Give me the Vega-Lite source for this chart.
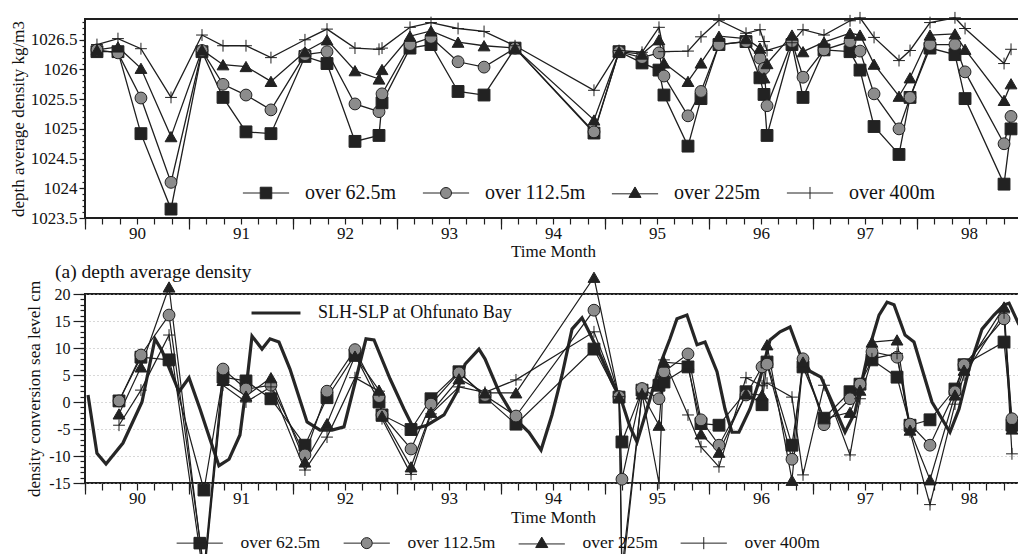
{
"$schema": "https://vega.github.io/schema/vega-lite/v6.json",
"background": "white",
"padding": {"left": 8, "top": 8, "right": 0, "bottom": 0},
"spacing": 0,
"resolve": {"scale": {"shape": "independent", "fill": "independent", "stroke": "independent"}},
"config": {
  "font": "Liberation Serif",
  "view": {"stroke": "#1e1e1e", "strokeWidth": 2},
  "axis": {"domainColor": "#1e1e1e", "tickColor": "#1e1e1e", "labelColor": "#111", "titleColor": "#111", "labelFont": "Liberation Serif", "titleFont": "Liberation Serif", "titleFontWeight": "normal", "grid": false, "tickWidth": 1.2},
  "legend": {"labelFont": "Liberation Serif", "labelColor": "#111", "labelLimit": 400}
},
"datasets": {
"top": [
{"t":1990.115,"s":"over 62.5m","v":1026.30},{"t":1990.115,"s":"over 112.5m","v":1026.33},{"t":1990.115,"s":"over 225m","v":1026.33},{"t":1990.115,"s":"over 400m","v":1026.42},
{"t":1990.317,"s":"over 62.5m","v":1026.30},{"t":1990.317,"s":"over 112.5m","v":1026.28},{"t":1990.317,"s":"over 225m","v":1026.38},{"t":1990.317,"s":"over 400m","v":1026.52},
{"t":1990.538,"s":"over 62.5m","v":1024.92},{"t":1990.538,"s":"over 112.5m","v":1025.52},{"t":1990.538,"s":"over 225m","v":1026.02},{"t":1990.538,"s":"over 400m","v":1026.35},
{"t":1990.827,"s":"over 62.5m","v":1023.65},{"t":1990.827,"s":"over 112.5m","v":1024.10},{"t":1990.827,"s":"over 225m","v":1024.87},{"t":1990.827,"s":"over 400m","v":1025.53},
{"t":1991.125,"s":"over 62.5m","v":1026.30},{"t":1991.125,"s":"over 112.5m","v":1026.32},{"t":1991.125,"s":"over 225m","v":1026.33},{"t":1991.125,"s":"over 400m","v":1026.58},
{"t":1991.327,"s":"over 62.5m","v":1025.53},{"t":1991.327,"s":"over 112.5m","v":1025.75},{"t":1991.327,"s":"over 225m","v":1026.08},{"t":1991.327,"s":"over 400m","v":1026.40},
{"t":1991.548,"s":"over 62.5m","v":1024.95},{"t":1991.548,"s":"over 112.5m","v":1025.57},{"t":1991.548,"s":"over 225m","v":1026.05},{"t":1991.548,"s":"over 400m","v":1026.40},
{"t":1991.788,"s":"over 62.5m","v":1024.92},{"t":1991.788,"s":"over 112.5m","v":1025.32},{"t":1991.788,"s":"over 225m","v":1025.80},{"t":1991.788,"s":"over 400m","v":1026.20},
{"t":1992.115,"s":"over 62.5m","v":1026.22},{"t":1992.115,"s":"over 112.5m","v":1026.25},{"t":1992.115,"s":"over 225m","v":1026.30},{"t":1992.115,"s":"over 400m","v":1026.50},
{"t":1992.327,"s":"over 62.5m","v":1026.10},{"t":1992.327,"s":"over 112.5m","v":1026.30},{"t":1992.327,"s":"over 225m","v":1026.50},{"t":1992.327,"s":"over 400m","v":1026.68},
{"t":1992.596,"s":"over 62.5m","v":1024.79},{"t":1992.596,"s":"over 112.5m","v":1025.42},{"t":1992.596,"s":"over 225m","v":1025.98},{"t":1992.596,"s":"over 400m","v":1026.36},
{"t":1992.827,"s":"over 62.5m","v":1024.89},{"t":1992.827,"s":"over 112.5m","v":1025.29},{"t":1992.827,"s":"over 225m","v":1025.84},{"t":1992.827,"s":"over 400m","v":1026.34},
{"t":1992.856,"s":"over 62.5m","v":1025.44},{"t":1992.856,"s":"over 112.5m","v":1025.59},{"t":1992.856,"s":"over 225m","v":1026.00},{"t":1992.856,"s":"over 400m","v":1026.36},
{"t":1993.125,"s":"over 62.5m","v":1026.36},{"t":1993.125,"s":"over 112.5m","v":1026.42},{"t":1993.125,"s":"over 225m","v":1026.56},{"t":1993.125,"s":"over 400m","v":1026.71},
{"t":1993.327,"s":"over 62.5m","v":1026.42},{"t":1993.327,"s":"over 112.5m","v":1026.54},{"t":1993.327,"s":"over 225m","v":1026.65},{"t":1993.327,"s":"over 400m","v":1026.79},
{"t":1993.587,"s":"over 62.5m","v":1025.63},{"t":1993.587,"s":"over 112.5m","v":1026.13},{"t":1993.587,"s":"over 225m","v":1026.46},{"t":1993.587,"s":"over 400m","v":1026.69},
{"t":1993.837,"s":"over 62.5m","v":1025.57},{"t":1993.837,"s":"over 112.5m","v":1026.04},{"t":1993.837,"s":"over 225m","v":1026.40},{"t":1993.837,"s":"over 400m","v":1026.64},
{"t":1994.135,"s":"over 62.5m","v":1026.36},{"t":1994.135,"s":"over 112.5m","v":1026.36},{"t":1994.135,"s":"over 225m","v":1026.36},{"t":1994.135,"s":"over 400m","v":1026.40},
{"t":1994.894,"s":"over 62.5m","v":1024.93},{"t":1994.894,"s":"over 112.5m","v":1024.95},{"t":1994.894,"s":"over 225m","v":1025.15},{"t":1994.894,"s":"over 400m","v":1025.65},
{"t":1995.135,"s":"over 62.5m","v":1026.30},{"t":1995.135,"s":"over 112.5m","v":1026.30},{"t":1995.135,"s":"over 225m","v":1026.30},{"t":1995.135,"s":"over 400m","v":1026.32},
{"t":1995.356,"s":"over 62.5m","v":1026.11},{"t":1995.356,"s":"over 112.5m","v":1026.20},{"t":1995.356,"s":"over 225m","v":1026.26},{"t":1995.356,"s":"over 400m","v":1026.29},
{"t":1995.519,"s":"over 62.5m","v":1025.99},{"t":1995.519,"s":"over 112.5m","v":1026.28},{"t":1995.519,"s":"over 225m","v":1026.50},{"t":1995.519,"s":"over 400m","v":1026.71},
{"t":1995.567,"s":"over 62.5m","v":1025.57},{"t":1995.567,"s":"over 112.5m","v":1025.89},{"t":1995.567,"s":"over 225m","v":1026.11},{"t":1995.567,"s":"over 400m","v":1026.30},
{"t":1995.798,"s":"over 62.5m","v":1024.71},{"t":1995.798,"s":"over 112.5m","v":1025.22},{"t":1995.798,"s":"over 225m","v":1025.80},{"t":1995.798,"s":"over 400m","v":1026.31},
{"t":1995.923,"s":"over 62.5m","v":1025.51},{"t":1995.923,"s":"over 112.5m","v":1025.63},{"t":1995.923,"s":"over 225m","v":1026.11},{"t":1995.923,"s":"over 400m","v":1026.55},
{"t":1996.096,"s":"over 62.5m","v":1026.42},{"t":1996.096,"s":"over 112.5m","v":1026.42},{"t":1996.096,"s":"over 225m","v":1026.56},{"t":1996.096,"s":"over 400m","v":1026.83},
{"t":1996.356,"s":"over 62.5m","v":1026.47},{"t":1996.356,"s":"over 112.5m","v":1026.47},{"t":1996.356,"s":"over 225m","v":1026.52},{"t":1996.356,"s":"over 400m","v":1026.61},
{"t":1996.490,"s":"over 62.5m","v":1025.86},{"t":1996.490,"s":"over 112.5m","v":1026.19},{"t":1996.490,"s":"over 225m","v":1026.36},{"t":1996.490,"s":"over 400m","v":1026.67},
{"t":1996.529,"s":"over 62.5m","v":1025.58},{"t":1996.529,"s":"over 112.5m","v":1026.02},{"t":1996.529,"s":"over 225m","v":1025.86},{"t":1996.529,"s":"over 400m","v":1026.47},
{"t":1996.558,"s":"over 62.5m","v":1024.89},{"t":1996.558,"s":"over 112.5m","v":1025.39},{"t":1996.558,"s":"over 225m","v":1026.10},{"t":1996.558,"s":"over 400m","v":1026.32},
{"t":1996.798,"s":"over 62.5m","v":1026.42},{"t":1996.798,"s":"over 112.5m","v":1026.47},{"t":1996.798,"s":"over 225m","v":1026.58},{"t":1996.798,"s":"over 400m","v":1026.45},
{"t":1996.904,"s":"over 62.5m","v":1025.53},{"t":1996.904,"s":"over 112.5m","v":1025.87},{"t":1996.904,"s":"over 225m","v":1026.30},{"t":1996.904,"s":"over 400m","v":1026.67},
{"t":1997.106,"s":"over 62.5m","v":1026.33},{"t":1997.106,"s":"over 112.5m","v":1026.33},{"t":1997.106,"s":"over 225m","v":1026.46},{"t":1997.106,"s":"over 400m","v":1026.58},
{"t":1997.356,"s":"over 62.5m","v":1026.30},{"t":1997.356,"s":"over 112.5m","v":1026.47},{"t":1997.356,"s":"over 225m","v":1026.61},{"t":1997.356,"s":"over 400m","v":1026.82},
{"t":1997.452,"s":"over 62.5m","v":1025.99},{"t":1997.452,"s":"over 112.5m","v":1026.31},{"t":1997.452,"s":"over 225m","v":1026.58},{"t":1997.452,"s":"over 400m","v":1026.87},
{"t":1997.587,"s":"over 62.5m","v":1025.04},{"t":1997.587,"s":"over 112.5m","v":1025.59},{"t":1997.587,"s":"over 225m","v":1026.09},{"t":1997.587,"s":"over 400m","v":1026.54},
{"t":1997.827,"s":"over 62.5m","v":1024.57},{"t":1997.827,"s":"over 112.5m","v":1025.00},{"t":1997.827,"s":"over 225m","v":1025.55},{"t":1997.827,"s":"over 400m","v":1026.15},
{"t":1997.933,"s":"over 62.5m","v":1025.53},{"t":1997.933,"s":"over 112.5m","v":1025.53},{"t":1997.933,"s":"over 225m","v":1025.86},{"t":1997.933,"s":"over 400m","v":1026.32},
{"t":1998.125,"s":"over 62.5m","v":1026.36},{"t":1998.125,"s":"over 112.5m","v":1026.42},{"t":1998.125,"s":"over 225m","v":1026.58},{"t":1998.125,"s":"over 400m","v":1026.79},
{"t":1998.365,"s":"over 62.5m","v":1026.25},{"t":1998.365,"s":"over 112.5m","v":1026.42},{"t":1998.365,"s":"over 225m","v":1026.60},{"t":1998.365,"s":"over 400m","v":1026.87},
{"t":1998.462,"s":"over 62.5m","v":1025.51},{"t":1998.462,"s":"over 112.5m","v":1025.96},{"t":1998.462,"s":"over 225m","v":1026.34},{"t":1998.462,"s":"over 400m","v":1026.69},
{"t":1998.837,"s":"over 62.5m","v":1024.07},{"t":1998.837,"s":"over 112.5m","v":1024.75},{"t":1998.837,"s":"over 225m","v":1025.48},{"t":1998.837,"s":"over 400m","v":1026.10},
{"t":1998.904,"s":"over 62.5m","v":1025.00},{"t":1998.904,"s":"over 112.5m","v":1025.21},{"t":1998.904,"s":"over 225m","v":1025.76},{"t":1998.904,"s":"over 400m","v":1026.34}
],
"bot": [
{"t":1990.327,"s":"over 62.5m","v":0.2},{"t":1990.327,"s":"over 112.5m","v":0.2},{"t":1990.327,"s":"over 225m","v":-2.2},{"t":1990.327,"s":"over 400m","v":-4.3},
{"t":1990.538,"s":"over 62.5m","v":8.3},{"t":1990.538,"s":"over 112.5m","v":8.7},{"t":1990.538,"s":"over 225m","v":6.5},{"t":1990.538,"s":"over 400m","v":2.2},
{"t":1990.808,"s":"over 62.5m","v":7.8},{"t":1990.808,"s":"over 112.5m","v":16.1},{"t":1990.808,"s":"over 225m","v":21.3},{"t":1990.808,"s":"over 400m","v":12.4},
{"t":1991.144,"s":"over 62.5m","v":-16.3},{"t":1991.144,"s":"over 112.5m","v":-31},{"t":1991.144,"s":"over 225m","v":-32},{"t":1991.144,"s":"over 400m","v":-33},
{"t":1991.327,"s":"over 62.5m","v":4.6},{"t":1991.327,"s":"over 112.5m","v":6.1},{"t":1991.327,"s":"over 225m","v":4.0},{"t":1991.327,"s":"over 400m","v":3.1},
{"t":1991.548,"s":"over 62.5m","v":3.9},{"t":1991.548,"s":"over 112.5m","v":2.4},{"t":1991.548,"s":"over 225m","v":1.1},{"t":1991.548,"s":"over 400m","v":0.0},
{"t":1991.788,"s":"over 62.5m","v":0.6},{"t":1991.788,"s":"over 112.5m","v":3.1},{"t":1991.788,"s":"over 225m","v":4.5},{"t":1991.788,"s":"over 400m","v":2.8},
{"t":1992.115,"s":"over 62.5m","v":-8.0},{"t":1992.115,"s":"over 112.5m","v":-9.8},{"t":1992.115,"s":"over 225m","v":-11.1},{"t":1992.115,"s":"over 400m","v":-12.6},
{"t":1992.327,"s":"over 62.5m","v":0.8},{"t":1992.327,"s":"over 112.5m","v":2.0},{"t":1992.327,"s":"over 225m","v":-4.0},{"t":1992.327,"s":"over 400m","v":-6.5},
{"t":1992.596,"s":"over 62.5m","v":8.7},{"t":1992.596,"s":"over 112.5m","v":9.7},{"t":1992.596,"s":"over 225m","v":8.5},{"t":1992.596,"s":"over 400m","v":4.5},
{"t":1992.827,"s":"over 62.5m","v":0.0},{"t":1992.827,"s":"over 112.5m","v":1.0},{"t":1992.827,"s":"over 225m","v":2.2},{"t":1992.827,"s":"over 400m","v":2.0},
{"t":1992.856,"s":"over 62.5m","v":-2.4},{"t":1992.856,"s":"over 112.5m","v":-2.4},{"t":1992.856,"s":"over 225m","v":-2.6},{"t":1992.856,"s":"over 400m","v":-3.1},
{"t":1993.135,"s":"over 62.5m","v":-5.1},{"t":1993.135,"s":"over 112.5m","v":-8.7},{"t":1993.135,"s":"over 225m","v":-12.0},{"t":1993.135,"s":"over 400m","v":-13.4},
{"t":1993.327,"s":"over 62.5m","v":0.6},{"t":1993.327,"s":"over 112.5m","v":-0.4},{"t":1993.327,"s":"over 225m","v":-1.9},{"t":1993.327,"s":"over 400m","v":-2.2},
{"t":1993.596,"s":"over 62.5m","v":5.6},{"t":1993.596,"s":"over 112.5m","v":5.4},{"t":1993.596,"s":"over 225m","v":4.3},{"t":1993.596,"s":"over 400m","v":2.8},
{"t":1993.846,"s":"over 62.5m","v":0.9},{"t":1993.846,"s":"over 112.5m","v":1.2},{"t":1993.846,"s":"over 225m","v":1.7},{"t":1993.846,"s":"over 400m","v":1.8},
{"t":1994.144,"s":"over 62.5m","v":-4.1},{"t":1994.144,"s":"over 112.5m","v":-2.6},{"t":1994.144,"s":"over 225m","v":1.7},{"t":1994.144,"s":"over 400m","v":4.1},
{"t":1994.894,"s":"over 62.5m","v":9.8},{"t":1994.894,"s":"over 112.5m","v":17.0},{"t":1994.894,"s":"over 225m","v":23.1},{"t":1994.894,"s":"over 400m","v":13.0},
{"t":1995.135,"s":"over 62.5m","v":0.9},{"t":1995.135,"s":"over 112.5m","v":1.0},{"t":1995.135,"s":"over 225m","v":0.9},{"t":1995.135,"s":"over 400m","v":1.0},
{"t":1995.163,"s":"over 62.5m","v":-7.4},{"t":1995.163,"s":"over 112.5m","v":-14.3},{"t":1995.163,"s":"over 225m","v":-31},{"t":1995.163,"s":"over 400m","v":-33},
{"t":1995.356,"s":"over 62.5m","v":2.2},{"t":1995.356,"s":"over 112.5m","v":2.5},{"t":1995.356,"s":"over 225m","v":1.5},{"t":1995.356,"s":"over 400m","v":1.5},
{"t":1995.519,"s":"over 62.5m","v":3.1},{"t":1995.519,"s":"over 112.5m","v":0.6},{"t":1995.519,"s":"over 225m","v":-4.3},{"t":1995.519,"s":"over 400m","v":-15},
{"t":1995.567,"s":"over 62.5m","v":3.7},{"t":1995.567,"s":"over 112.5m","v":5.6},{"t":1995.567,"s":"over 225m","v":7.4},{"t":1995.567,"s":"over 400m","v":7.8},
{"t":1995.798,"s":"over 62.5m","v":6.5},{"t":1995.798,"s":"over 112.5m","v":8.9},{"t":1995.798,"s":"over 225m","v":7.0},{"t":1995.798,"s":"over 400m","v":-2.4},
{"t":1995.923,"s":"over 62.5m","v":-4.0},{"t":1995.923,"s":"over 112.5m","v":-3.3},{"t":1995.923,"s":"over 225m","v":-5.9},{"t":1995.923,"s":"over 400m","v":-8.3},
{"t":1996.096,"s":"over 62.5m","v":-4.3},{"t":1996.096,"s":"over 112.5m","v":-8.0},{"t":1996.096,"s":"over 225m","v":-9.3},{"t":1996.096,"s":"over 400m","v":-12.0},
{"t":1996.356,"s":"over 62.5m","v":1.9},{"t":1996.356,"s":"over 112.5m","v":1.3},{"t":1996.356,"s":"over 225m","v":1.5},{"t":1996.356,"s":"over 400m","v":4.5},
{"t":1996.510,"s":"over 62.5m","v":-0.5},{"t":1996.510,"s":"over 112.5m","v":6.5},{"t":1996.510,"s":"over 225m","v":1.3},{"t":1996.510,"s":"over 400m","v":3.0},
{"t":1996.558,"s":"over 62.5m","v":7.4},{"t":1996.558,"s":"over 112.5m","v":7.0},{"t":1996.558,"s":"over 225m","v":10.6},{"t":1996.558,"s":"over 400m","v":3.5},
{"t":1996.798,"s":"over 62.5m","v":-8.0},{"t":1996.798,"s":"over 112.5m","v":-10.6},{"t":1996.798,"s":"over 225m","v":-14.5},{"t":1996.798,"s":"over 400m","v":0.9},
{"t":1996.904,"s":"over 62.5m","v":6.5},{"t":1996.904,"s":"over 112.5m","v":8.0},{"t":1996.904,"s":"over 225m","v":7.4},{"t":1996.904,"s":"over 400m","v":-13.5},
{"t":1997.106,"s":"over 62.5m","v":-3.0},{"t":1997.106,"s":"over 112.5m","v":-4.2},{"t":1997.106,"s":"over 225m","v":-3.1},{"t":1997.106,"s":"over 400m","v":3.1},
{"t":1997.356,"s":"over 62.5m","v":1.9},{"t":1997.356,"s":"over 112.5m","v":0.6},{"t":1997.356,"s":"over 225m","v":-1.9},{"t":1997.356,"s":"over 400m","v":-9.8},
{"t":1997.452,"s":"over 62.5m","v":3.3},{"t":1997.452,"s":"over 112.5m","v":3.3},{"t":1997.452,"s":"over 225m","v":2.2},{"t":1997.452,"s":"over 400m","v":0.6},
{"t":1997.567,"s":"over 62.5m","v":7.8},{"t":1997.567,"s":"over 112.5m","v":9.3},{"t":1997.567,"s":"over 225m","v":11.1},{"t":1997.567,"s":"over 400m","v":8.0},
{"t":1997.808,"s":"over 62.5m","v":4.6},{"t":1997.808,"s":"over 112.5m","v":8.3},{"t":1997.808,"s":"over 225m","v":11.5},{"t":1997.808,"s":"over 400m","v":9.0},
{"t":1997.933,"s":"over 62.5m","v":-4.3},{"t":1997.933,"s":"over 112.5m","v":-4.1},{"t":1997.933,"s":"over 225m","v":-5.2},{"t":1997.933,"s":"over 400m","v":-5.5},
{"t":1998.125,"s":"over 62.5m","v":-3.3},{"t":1998.125,"s":"over 112.5m","v":-8.0},{"t":1998.125,"s":"over 225m","v":-14.4},{"t":1998.125,"s":"over 400m","v":-19.0},
{"t":1998.365,"s":"over 62.5m","v":2.4},{"t":1998.365,"s":"over 112.5m","v":1.9},{"t":1998.365,"s":"over 225m","v":1.3},{"t":1998.365,"s":"over 400m","v":-0.4},
{"t":1998.452,"s":"over 62.5m","v":6.9},{"t":1998.452,"s":"over 112.5m","v":6.9},{"t":1998.452,"s":"over 225m","v":5.9},{"t":1998.452,"s":"over 400m","v":5.0},
{"t":1998.837,"s":"over 62.5m","v":11.1},{"t":1998.837,"s":"over 112.5m","v":15.4},{"t":1998.837,"s":"over 225m","v":17.6},{"t":1998.837,"s":"over 400m","v":16.5},
{"t":1998.913,"s":"over 62.5m","v":-4.3},{"t":1998.913,"s":"over 112.5m","v":-3.1},{"t":1998.913,"s":"over 225m","v":-5.0},{"t":1998.913,"s":"over 400m","v":-9.6}
],
"slh": [
{"t":1990.029,"v":1.3,"n":"SLH-SLP at Ohfunato Bay"},{"t":1990.115,"v":-9.5,"n":"SLH-SLP at Ohfunato Bay"},{"t":1990.202,"v":-11.5,"n":"SLH-SLP at Ohfunato Bay"},{"t":1990.365,"v":-7.6,"n":"SLH-SLP at Ohfunato Bay"},
{"t":1990.548,"v":0,"n":"SLH-SLP at Ohfunato Bay"},{"t":1990.673,"v":11.7,"n":"SLH-SLP at Ohfunato Bay"},{"t":1990.740,"v":9.5,"n":"SLH-SLP at Ohfunato Bay"},{"t":1990.904,"v":1.9,"n":"SLH-SLP at Ohfunato Bay"},
{"t":1991.000,"v":4.5,"n":"SLH-SLP at Ohfunato Bay"},{"t":1991.106,"v":-1.3,"n":"SLH-SLP at Ohfunato Bay"},{"t":1991.202,"v":-6.9,"n":"SLH-SLP at Ohfunato Bay"},{"t":1991.288,"v":-11.8,"n":"SLH-SLP at Ohfunato Bay"},
{"t":1991.385,"v":-10.6,"n":"SLH-SLP at Ohfunato Bay"},{"t":1991.490,"v":-6.1,"n":"SLH-SLP at Ohfunato Bay"},{"t":1991.558,"v":4,"n":"SLH-SLP at Ohfunato Bay"},{"t":1991.606,"v":12.2,"n":"SLH-SLP at Ohfunato Bay"},
{"t":1991.702,"v":9.8,"n":"SLH-SLP at Ohfunato Bay"},{"t":1991.779,"v":11.7,"n":"SLH-SLP at Ohfunato Bay"},{"t":1991.865,"v":11.1,"n":"SLH-SLP at Ohfunato Bay"},{"t":1991.971,"v":6.1,"n":"SLH-SLP at Ohfunato Bay"},
{"t":1992.135,"v":-3.7,"n":"SLH-SLP at Ohfunato Bay"},{"t":1992.260,"v":-5.2,"n":"SLH-SLP at Ohfunato Bay"},{"t":1992.375,"v":-5.2,"n":"SLH-SLP at Ohfunato Bay"},{"t":1992.490,"v":-4.6,"n":"SLH-SLP at Ohfunato Bay"},
{"t":1992.615,"v":5,"n":"SLH-SLP at Ohfunato Bay"},{"t":1992.702,"v":11.7,"n":"SLH-SLP at Ohfunato Bay"},{"t":1992.779,"v":11.5,"n":"SLH-SLP at Ohfunato Bay"},{"t":1992.933,"v":4.3,"n":"SLH-SLP at Ohfunato Bay"},
{"t":1993.067,"v":-1.3,"n":"SLH-SLP at Ohfunato Bay"},{"t":1993.163,"v":-5.0,"n":"SLH-SLP at Ohfunato Bay"},{"t":1993.288,"v":-4.3,"n":"SLH-SLP at Ohfunato Bay"},{"t":1993.452,"v":-2.4,"n":"SLH-SLP at Ohfunato Bay"},
{"t":1993.577,"v":1.9,"n":"SLH-SLP at Ohfunato Bay"},{"t":1993.654,"v":7.0,"n":"SLH-SLP at Ohfunato Bay"},{"t":1993.788,"v":9.8,"n":"SLH-SLP at Ohfunato Bay"},{"t":1993.846,"v":8.0,"n":"SLH-SLP at Ohfunato Bay"},
{"t":1993.981,"v":1.9,"n":"SLH-SLP at Ohfunato Bay"},{"t":1994.135,"v":-3.1,"n":"SLH-SLP at Ohfunato Bay"},{"t":1994.269,"v":-5.6,"n":"SLH-SLP at Ohfunato Bay"},{"t":1994.385,"v":-8.9,"n":"SLH-SLP at Ohfunato Bay"},
{"t":1994.490,"v":-2.4,"n":"SLH-SLP at Ohfunato Bay"},{"t":1994.587,"v":5.0,"n":"SLH-SLP at Ohfunato Bay"},{"t":1994.683,"v":13.5,"n":"SLH-SLP at Ohfunato Bay"},{"t":1994.779,"v":15.6,"n":"SLH-SLP at Ohfunato Bay"},
{"t":1994.846,"v":13.0,"n":"SLH-SLP at Ohfunato Bay"},{"t":1994.971,"v":8,"n":"SLH-SLP at Ohfunato Bay"},{"t":1995.067,"v":3.7,"n":"SLH-SLP at Ohfunato Bay"},{"t":1995.163,"v":0,"n":"SLH-SLP at Ohfunato Bay"},
{"t":1995.240,"v":-4.6,"n":"SLH-SLP at Ohfunato Bay"},{"t":1995.308,"v":-7.4,"n":"SLH-SLP at Ohfunato Bay"},{"t":1995.404,"v":-1.3,"n":"SLH-SLP at Ohfunato Bay"},{"t":1995.529,"v":6.9,"n":"SLH-SLP at Ohfunato Bay"},
{"t":1995.625,"v":11.7,"n":"SLH-SLP at Ohfunato Bay"},{"t":1995.692,"v":15.4,"n":"SLH-SLP at Ohfunato Bay"},{"t":1995.788,"v":16.1,"n":"SLH-SLP at Ohfunato Bay"},{"t":1995.885,"v":10.6,"n":"SLH-SLP at Ohfunato Bay"},
{"t":1995.962,"v":11.1,"n":"SLH-SLP at Ohfunato Bay"},{"t":1996.077,"v":5.6,"n":"SLH-SLP at Ohfunato Bay"},{"t":1996.154,"v":-1.3,"n":"SLH-SLP at Ohfunato Bay"},{"t":1996.221,"v":-5.6,"n":"SLH-SLP at Ohfunato Bay"},
{"t":1996.288,"v":-5.6,"n":"SLH-SLP at Ohfunato Bay"},{"t":1996.394,"v":-1.3,"n":"SLH-SLP at Ohfunato Bay"},{"t":1996.490,"v":4.3,"n":"SLH-SLP at Ohfunato Bay"},{"t":1996.587,"v":11.5,"n":"SLH-SLP at Ohfunato Bay"},
{"t":1996.683,"v":13.0,"n":"SLH-SLP at Ohfunato Bay"},{"t":1996.779,"v":13.9,"n":"SLH-SLP at Ohfunato Bay"},{"t":1996.875,"v":8.9,"n":"SLH-SLP at Ohfunato Bay"},{"t":1996.971,"v":5.7,"n":"SLH-SLP at Ohfunato Bay"},
{"t":1997.077,"v":4.6,"n":"SLH-SLP at Ohfunato Bay"},{"t":1997.212,"v":-1.3,"n":"SLH-SLP at Ohfunato Bay"},{"t":1997.308,"v":-5.6,"n":"SLH-SLP at Ohfunato Bay"},{"t":1997.404,"v":-1.9,"n":"SLH-SLP at Ohfunato Bay"},
{"t":1997.538,"v":9.8,"n":"SLH-SLP at Ohfunato Bay"},{"t":1997.635,"v":16.1,"n":"SLH-SLP at Ohfunato Bay"},{"t":1997.712,"v":18.5,"n":"SLH-SLP at Ohfunato Bay"},{"t":1997.779,"v":18.0,"n":"SLH-SLP at Ohfunato Bay"},
{"t":1997.885,"v":12.4,"n":"SLH-SLP at Ohfunato Bay"},{"t":1997.971,"v":11.1,"n":"SLH-SLP at Ohfunato Bay"},{"t":1998.144,"v":0,"n":"SLH-SLP at Ohfunato Bay"},{"t":1998.317,"v":-5.6,"n":"SLH-SLP at Ohfunato Bay"},
{"t":1998.404,"v":-1.3,"n":"SLH-SLP at Ohfunato Bay"},{"t":1998.500,"v":6.1,"n":"SLH-SLP at Ohfunato Bay"},{"t":1998.625,"v":13.5,"n":"SLH-SLP at Ohfunato Bay"},{"t":1998.740,"v":16.1,"n":"SLH-SLP at Ohfunato Bay"},
{"t":1998.837,"v":18.0,"n":"SLH-SLP at Ohfunato Bay"},{"t":1998.885,"v":18.3,"n":"SLH-SLP at Ohfunato Bay"},{"t":1998.981,"v":14.3,"n":"SLH-SLP at Ohfunato Bay"}
]
},
"vconcat": [
{
  "width": 936, "height": 199,
  "resolve": {"axis": {"x": "independent", "y": "independent"}, "scale": {"shape": "independent", "fill": "independent", "stroke": "independent"}},
  "layer": [
    {
      "data": {"name": "top"},
      "mark": {"type": "line", "stroke": "#1e1e1e", "strokeWidth": 1.3},
      "encoding": {
        "x": {"field": "t", "type": "quantitative", "scale": {"domain": [1990, 1999], "nice": false, "zero": false},
              "axis": {"orient": "bottom", "values": [1990,1991,1992,1993,1994,1995,1996,1997,1998,1999], "tickSize": 11, "labels": false, "domain": false, "title": null}},
        "y": {"field": "v", "type": "quantitative", "scale": {"domain": [1023.5, 1026.85], "nice": false, "zero": false},
              "axis": {"orient": "left", "values": [1023.5,1024,1024.5,1025,1025.5,1026,1026.5], "format": "~g", "tickSize": 6, "labelFontSize": 17, "labelPadding": 2, "domain": false, "title": "depth average density  kg/m3", "titleFontSize": 17, "titlePadding": 3}},
        "detail": {"field": "s", "type": "nominal"}
      }
    },
    {
      "data": {"name": "top"},
      "mark": {"type": "point", "filled": true, "size": 140, "stroke": "#222", "strokeWidth": 1, "opacity": 1},
      "encoding": {
        "x": {"field": "t", "type": "quantitative",
              "axis": {"orient": "bottom", "values": [1990,1990.1667,1990.3333,1990.5,1990.6667,1990.8333,1991,1991.1667,1991.3333,1991.5,1991.6667,1991.8333,1992,1992.1667,1992.3333,1992.5,1992.6667,1992.8333,1993,1993.1667,1993.3333,1993.5,1993.6667,1993.8333,1994,1994.1667,1994.3333,1994.5,1994.6667,1994.8333,1995,1995.1667,1995.3333,1995.5,1995.6667,1995.8333,1996,1996.1667,1996.3333,1996.5,1996.6667,1996.8333,1997,1997.1667,1997.3333,1997.5,1997.6667,1997.8333,1998,1998.1667,1998.3333,1998.5,1998.6667,1998.8333,1999],
                       "tickSize": 6, "labelExpr": "abs(datum.value - floor(datum.value) - 0.5) < 0.01 ? '' + (floor(datum.value) - 1900) : ''",
                       "labelFontSize": 17, "labelPadding": 1, "labelOverlap": false, "labelFlush": false, "domain": false,
                       "title": "Time  Month", "titleFontSize": 17, "titleY": 25}},
        "y": {"field": "v", "type": "quantitative",
              "axis": {"orient": "left", "values": [1023.6,1023.7,1023.8,1023.9,1024,1024.1,1024.2,1024.3,1024.4,1024.5,1024.6,1024.7,1024.8,1024.9,1025,1025.1,1025.2,1025.3,1025.4,1025.5,1025.6,1025.7,1025.8,1025.9,1026,1026.1,1026.2,1026.3,1026.4,1026.5,1026.6,1026.7,1026.8], "tickSize": 3, "labels": false, "domain": false, "title": null}},
        "shape": {"field": "s", "type": "nominal",
                  "scale": {"domain": ["over 62.5m","over 112.5m","over 225m","over 400m"], "range": ["square","circle","triangle-up","M-1,0H1M0,-1V1"]},
                  "legend": null},
        "fill": {"field": "s", "type": "nominal",
                 "scale": {"domain": ["over 62.5m","over 112.5m","over 225m","over 400m"], "range": ["#222","#8c8c8c","#222","transparent"]},
                 "legend": null}
      }
    },
    {
      "data": {"name": "top"},
      "mark": {"type": "point", "filled": true, "size": 121, "strokeWidth": 1, "opacity": 0},
      "encoding": {
        "x": {"field": "t", "type": "quantitative", "axis": null},
        "y": {"field": "v", "type": "quantitative", "axis": null},
        "shape": {"field": "s", "type": "nominal",
                  "scale": {"domain": ["over 62.5m","over 112.5m","over 225m","over 400m"], "range": ["M-4.2,0H4.2M-1.05,-1.05H1.05V1.05H-1.05Z","M-4.2,0H-1A1,1 0 1,1 1,0H4.2M1,0A1,1 0 1,1 -1,0","M-4.2,0.15H4.2M0,-1.1L1.1,0.8H-1.1Z","M-4.2,0H4.2M0,-1.1V1.1"]},
                  "legend": {"orient": "none", "direction": "horizontal", "legendX": 171, "legendY": 164, "title": null,
                             "labelFontSize": 20, "symbolSize": 121, "labelOffset": 29, "columnPadding": 23,
                             "symbolStrokeWidth": 1, "symbolOpacity": 1}},
        "fill": {"field": "s", "type": "nominal",
                 "scale": {"domain": ["over 62.5m","over 112.5m","over 225m","over 400m"], "range": ["#222","#8c8c8c","#222","transparent"]},
                 "legend": {"orient": "none", "direction": "horizontal", "legendX": 171, "legendY": 164, "title": null,
                             "labelFontSize": 20, "symbolSize": 121, "labelOffset": 29, "columnPadding": 23,
                             "symbolStrokeWidth": 1, "symbolOpacity": 1}},
        "stroke": {"field": "s", "type": "nominal",
                 "scale": {"domain": ["over 62.5m","over 112.5m","over 225m","over 400m"], "range": ["#222","#222","#222","#222"]},
                 "legend": {"orient": "none", "direction": "horizontal", "legendX": 171, "legendY": 164, "title": null,
                             "labelFontSize": 20, "symbolSize": 121, "labelOffset": 29, "columnPadding": 23,
                             "symbolStrokeWidth": 1, "symbolOpacity": 1}}
      }
    }
  ]
},
{
  "width": 936, "height": 189,
  "title": {"text": "(a) depth average density", "anchor": "start", "frame": "group", "fontSize": 19.5, "fontWeight": "normal", "font": "Liberation Serif", "color": "#111", "dx": -30, "offset": -12},
  "resolve": {"axis": {"x": "independent", "y": "independent"}, "scale": {"shape": "independent", "fill": "independent", "stroke": "independent"}},
  "layer": [
    {
      "data": {"name": "slh"},
      "mark": {"type": "line", "strokeWidth": 3.2},
      "encoding": {
        "x": {"field": "t", "type": "quantitative", "scale": {"domain": [1990, 1999], "nice": false, "zero": false},
              "axis": {"orient": "bottom", "values": [1990,1991,1992,1993,1994,1995,1996,1997,1998,1999], "tickSize": 11, "labels": false, "domain": false, "title": null}},
        "y": {"field": "v", "type": "quantitative", "scale": {"domain": [-15, 20], "nice": false, "zero": false},
              "axis": {"orient": "left", "values": [-15,-10,-5,0,5,10,15,20], "labelExpr": "datum.value + ''", "tickSize": 12, "labelFontSize": 16, "labelPadding": 3, "domain": false,
                       "grid": true, "gridDash": [1, 3], "gridColor": "#b0b0b0", "gridWidth": 1,
                       "title": "density conversion sea level  cm", "titleFontSize": 17, "titlePadding": 5}},
        "stroke": {"field": "n", "type": "nominal", "scale": {"range": ["#262626"]},
                   "legend": {"orient": "none", "legendX": 182, "legendY": 10, "title": null, "labelFontSize": 18, "labelLimit": 400,
                              "symbolType": "M-4.45,0H4.45", "symbolSize": 121, "symbolStrokeWidth": 3, "labelOffset": 33}}
      }
    },
    {
      "data": {"name": "bot"},
      "mark": {"type": "line", "stroke": "#1e1e1e", "strokeWidth": 1.2},
      "encoding": {
        "x": {"field": "t", "type": "quantitative",
              "axis": {"orient": "bottom", "values": [1990,1990.1667,1990.3333,1990.5,1990.6667,1990.8333,1991,1991.1667,1991.3333,1991.5,1991.6667,1991.8333,1992,1992.1667,1992.3333,1992.5,1992.6667,1992.8333,1993,1993.1667,1993.3333,1993.5,1993.6667,1993.8333,1994,1994.1667,1994.3333,1994.5,1994.6667,1994.8333,1995,1995.1667,1995.3333,1995.5,1995.6667,1995.8333,1996,1996.1667,1996.3333,1996.5,1996.6667,1996.8333,1997,1997.1667,1997.3333,1997.5,1997.6667,1997.8333,1998,1998.1667,1998.3333,1998.5,1998.6667,1998.8333,1999],
                       "tickSize": 7, "labelExpr": "abs(datum.value - floor(datum.value) - 0.5) < 0.01 ? '' + (floor(datum.value) - 1900) : ''",
                       "labelFontSize": 17, "labelPadding": 0, "labelOverlap": false, "labelFlush": false, "domain": false,
                       "title": "Time  Month", "titleFontSize": 17, "titleY": 26}},
        "y": {"field": "v", "type": "quantitative",
              "axis": {"orient": "left", "values": [-15,-14,-13,-12,-11,-10,-9,-8,-7,-6,-5,-4,-3,-2,-1,0,1,2,3,4,5,6,7,8,9,10,11,12,13,14,15,16,17,18,19,20], "tickSize": 5, "labels": false, "domain": false, "title": null}},
        "detail": {"field": "s", "type": "nominal"}
      }
    },
    {
      "data": {"name": "bot"},
      "mark": {"type": "point", "filled": true, "size": 140, "stroke": "#222", "strokeWidth": 1, "opacity": 1},
      "encoding": {
        "x": {"field": "t", "type": "quantitative", "axis": null},
        "y": {"field": "v", "type": "quantitative", "axis": null},
        "shape": {"field": "s", "type": "nominal",
                  "scale": {"domain": ["over 62.5m","over 112.5m","over 225m","over 400m"], "range": ["square","circle","triangle-up","M-1,0H1M0,-1V1"]},
                  "legend": null},
        "fill": {"field": "s", "type": "nominal",
                 "scale": {"domain": ["over 62.5m","over 112.5m","over 225m","over 400m"], "range": ["#222","#8c8c8c","#222","transparent"]},
                 "legend": null}
      }
    },
    {
      "data": {"name": "bot"},
      "mark": {"type": "point", "filled": true, "size": 121, "strokeWidth": 1, "opacity": 0},
      "encoding": {
        "x": {"field": "t", "type": "quantitative", "axis": null},
        "y": {"field": "v", "type": "quantitative", "axis": null},
        "shape": {"field": "s", "type": "nominal",
                  "scale": {"domain": ["over 62.5m","over 112.5m","over 225m","over 400m"], "range": ["M-4.2,0H4.2M-1.05,-1.05H1.05V1.05H-1.05Z","M-4.2,0H-1A1,1 0 1,1 1,0H4.2M1,0A1,1 0 1,1 -1,0","M-4.2,0.15H4.2M0,-1.1L1.1,0.8H-1.1Z","M-4.2,0H4.2M0,-1.1V1.1"]},
                  "legend": {"orient": "none", "direction": "horizontal", "legendX": 106, "legendY": 240, "title": null,
                             "labelFontSize": 17.5, "symbolSize": 121, "labelOffset": 32, "columnPadding": 20,
                             "symbolStrokeWidth": 1, "symbolOpacity": 1}},
        "fill": {"field": "s", "type": "nominal",
                 "scale": {"domain": ["over 62.5m","over 112.5m","over 225m","over 400m"], "range": ["#222","#8c8c8c","#222","transparent"]},
                 "legend": {"orient": "none", "direction": "horizontal", "legendX": 106, "legendY": 240, "title": null,
                             "labelFontSize": 17.5, "symbolSize": 121, "labelOffset": 32, "columnPadding": 20,
                             "symbolStrokeWidth": 1, "symbolOpacity": 1}},
        "stroke": {"field": "s", "type": "nominal",
                 "scale": {"domain": ["over 62.5m","over 112.5m","over 225m","over 400m"], "range": ["#222","#222","#222","#222"]},
                 "legend": {"orient": "none", "direction": "horizontal", "legendX": 106, "legendY": 240, "title": null,
                             "labelFontSize": 17.5, "symbolSize": 121, "labelOffset": 32, "columnPadding": 20,
                             "symbolStrokeWidth": 1, "symbolOpacity": 1}}
      }
    }
  ]
}
]
}
